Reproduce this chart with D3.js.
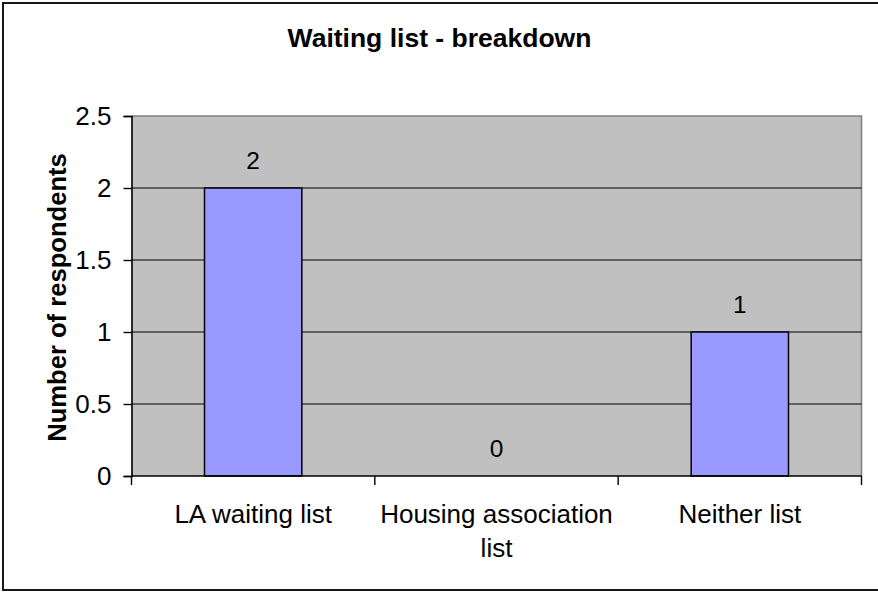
<!DOCTYPE html>
<html><head><meta charset="utf-8">
<script src="https://cdn.jsdelivr.net/npm/d3@7"></script>
<style>body{margin:0;background:#fff;} text{font-family:"Liberation Sans",Arial,sans-serif;fill:#000;}</style>
</head><body>
<svg id="c" width="878" height="592"></svg>
<script>
const categories = ["LA waiting list", "Housing association list", "Neither list"];
const values = [2, 0, 1];
const yTicks = [0, 0.5, 1, 1.5, 2, 2.5];
const title = "Waiting list - breakdown";
const yLabel = "Number of respondents";

const svg = d3.select("#c");
const m = {left: 131.5, top: 116, right: 861.5, bottom: 476};

// outer border
svg.append("rect").attr("x", 3).attr("y", 3).attr("width", 890).attr("height", 587)
  .attr("fill", "#fff").attr("stroke", "#000").attr("stroke-width", 1.8);

const x = d3.scaleBand().domain(categories).range([m.left, m.right]).padding(0);
const y = d3.scaleLinear().domain([0, 2.5]).range([m.bottom, m.top]);

// plot area
svg.append("rect").attr("x", m.left).attr("y", m.top).attr("width", m.right - m.left)
  .attr("height", m.bottom - m.top).attr("fill", "#C0C0C0");
// top / right gray border
svg.append("path").attr("d", `M${m.left},${m.top}H${m.right}V${m.bottom}`)
  .attr("fill", "none").attr("stroke", "#808080").attr("stroke-width", 1.6);

// gridlines
svg.append("g").selectAll("line").data(yTicks.filter(t => t > 0 && t < 2.5)).join("line")
  .attr("x1", m.left).attr("x2", m.right)
  .attr("y1", d => y(d)).attr("y2", d => y(d))
  .attr("stroke", "#000").attr("stroke-width", 1.2);

// bars
const bw = x.bandwidth();
svg.append("g").selectAll("rect").data(values).join("rect")
  .attr("x", (d, i) => x(categories[i]) + bw * 0.3)
  .attr("width", bw * 0.4)
  .attr("y", d => y(d))
  .attr("height", d => y(0) - y(d))
  .attr("fill", "#9999FF").attr("stroke", "#000").attr("stroke-width", 1.5)
  .style("display", d => d > 0 ? null : "none");

// data labels
svg.append("g").selectAll("text").data(values).join("text")
  .attr("x", (d, i) => x(categories[i]) + bw / 2)
  .attr("y", d => y(d) - 19)
  .attr("text-anchor", "middle").attr("font-size", 24.5)
  .text(d => d);

// y axis
const ya = svg.append("g").attr("transform", `translate(${m.left},0)`)
  .call(d3.axisLeft(y).tickValues(yTicks).tickSize(8).tickPadding(12).tickFormat(d3.format("")));
ya.select(".domain").attr("stroke", "#000").attr("stroke-width", 1.6);
ya.selectAll(".tick line").attr("stroke", "#000").attr("stroke-width", 1.4);
ya.selectAll(".tick text").attr("font-size", 26).attr("font-family", "Liberation Sans, Arial, sans-serif").attr("fill", "#000");

// x axis line
svg.append("line").attr("x1", m.left).attr("x2", m.right).attr("y1", m.bottom).attr("y2", m.bottom)
  .attr("stroke", "#000").attr("stroke-width", 1.6);
// x ticks at category boundaries
const bounds = categories.map(c => x(c)).concat([x(categories[categories.length - 1]) + bw]);
svg.append("g").selectAll("line").data(bounds).join("line")
  .attr("x1", d => d).attr("x2", d => d).attr("y1", m.bottom).attr("y2", m.bottom + 9)
  .attr("stroke", "#000").attr("stroke-width", 1.4);

// category labels with wrapping
const cl = svg.append("g").selectAll("text").data(categories).join("text")
  .attr("x", d => x(d) + bw / 2).attr("y", 523)
  .attr("text-anchor", "middle").attr("font-size", 26);
cl.each(function(d) {
  const t = d3.select(this);
  const words = d.split(" ");
  let line = [], lines = [];
  const tmp = t.append("tspan");
  words.forEach(w => {
    line.push(w);
    tmp.text(line.join(" "));
    if (tmp.node().getComputedTextLength() > bw - 6 && line.length > 1) {
      line.pop(); lines.push(line.join(" ")); line = [w];
    }
  });
  lines.push(line.join(" "));
  tmp.remove();
  lines.forEach((l, i) => {
    t.append("tspan").attr("x", x(d) + bw / 2).attr("dy", i === 0 ? 0 : 33.5).text(l);
  });
});

// title
svg.append("text").attr("x", 439.5).attr("y", 46.5).attr("text-anchor", "middle")
  .attr("font-size", 26.5).attr("font-weight", "bold").text(title);

// y label
svg.append("text").attr("transform", "translate(66,297.5) rotate(-90)")
  .attr("text-anchor", "middle").attr("font-size", 25.6).attr("font-weight", "bold").text(yLabel);
</script>
</body></html>
